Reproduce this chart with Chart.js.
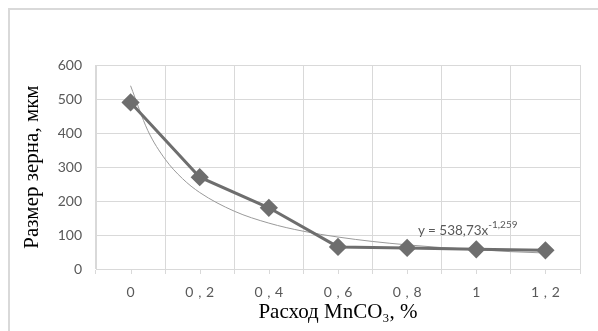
<!DOCTYPE html>
<html>
<head>
<meta charset="utf-8">
<script src="https://cdn.jsdelivr.net/npm/chart.js@4"></script>
<style>
  body { margin: 0; background: #fff; }
  #wrap { position: relative; width: 598px; height: 331px; overflow: hidden; }
  #frame { position: absolute; left: 8px; top: 8px; width: 700px; height: 400px;
           border-left: 2px solid #d9d9d9; border-top: 2px solid #d9d9d9; }
  #eq { position: absolute; left: 418px; top: 219px; font-family: Lato, "Open Sans", sans-serif;
        font-size: 13.5px; color: #595959; white-space: nowrap; }
  #eq sup { font-size: 10px; position: relative; top: -1px; }
  canvas { position: absolute; left: 0; top: 0; }
</style>
</head>
<body>
<div id="wrap">
  <div id="frame"></div>
  <canvas id="chart" width="598" height="331"></canvas>
  <div id="eq">y = 538,73x<sup>-1,259</sup></div>
</div>
<script>
// расход MnCO3, % и размер зерна, мкм
var labels = ['0', '0\u2004,\u20042', '0\u2004,\u20044', '0\u2004,\u20046', '0\u2004,\u20048', '1', '1\u2004,\u20042'];
var rashod = [0, 0.2, 0.4, 0.6, 0.8, 1.0, 1.2];
var razmer = [490, 270, 180, 65, 62, 58, 55];

// степенная линия тренда
var trendX = [0, 0.05, 0.1, 0.15, 0.2, 0.3, 0.4, 0.5, 0.6, 0.7, 0.8, 0.9, 1.0, 1.1, 1.2];
var trendY = [539, 407, 323, 266, 225, 170, 135, 111, 94, 81, 71, 63, 57, 51, 47];

var yTicks = [0, 100, 200, 300, 400, 500, 600];

var points = [];
for (var i in rashod) points.push({x: rashod[i], y: razmer[i]});
var trend = [];
for (var j in trendX) trend.push({x: trendX[j], y: trendY[j]});

var gridColor = '#d9d9d9';

// маленькие засечки под осью по центру категорий
var centerTicks = {
  id: 'centerTicks',
  afterDraw: function(chart) {
    var sx = chart.scales.x, ctx = chart.ctx;
    ctx.save();
    ctx.strokeStyle = gridColor;
    ctx.lineWidth = 1;
    for (var k = 0; k < labels.length; k++) {
      var px = Math.round(sx.getPixelForValue(k)) + 0.5;
      ctx.beginPath();
      ctx.moveTo(px, sx.top);
      ctx.lineTo(px, sx.top + 5);
      ctx.stroke();
    }
    ctx.restore();
  }
};

var ctx = document.getElementById('chart');
new Chart(ctx, {
  type: 'line',
  data: {
    labels: labels,
    datasets: [
      {
        label: 'Размер зерна',
        data: points,
        xAxisID: 'x2',
        borderColor: '#6e6e6e',
        backgroundColor: '#6e6e6e',
        borderWidth: 3,
        pointStyle: 'rectRot',
        pointRadius: 7,
        pointHoverRadius: 7,
        tension: 0
      },
      {
        label: 'Степенная',
        data: trend,
        xAxisID: 'x2',
        borderColor: '#9a9a9a',
        borderWidth: 1,
        pointRadius: 0,
        cubicInterpolationMode: 'monotone'
      }
    ]
  },
  options: {
    responsive: false,
    animation: false,
    layout: { padding: { left: 20, right: 18, top: 65, bottom: 6 } },
    plugins: { legend: { display: false }, tooltip: { enabled: false } },
    scales: {
      x: {
        type: 'category',
        offset: true,
        grid: { offset: true, color: gridColor, tickLength: 5, tickColor: gridColor },
        border: { color: gridColor },
        ticks: { color: '#595959', font: { family: 'Lato', size: 14 }, padding: 10, maxRotation: 0 },
        title: { display: true, text: 'Расход MnCO₃, %', color: '#000',
                 font: { family: 'Liberation Serif', size: 21 }, padding: { top: 0, bottom: 0 } },
        afterFit: function(s) { s.height = 56; }
      },
      x2: {
        type: 'linear',
        display: false,
        min: -0.1,
        max: 1.3
      },
      y: {
        min: 0,
        max: 600,
        afterBuildTicks: function(s) { s.ticks = yTicks.map(function(v) { return {value: v}; }); },
        grid: { color: gridColor, drawTicks: false },
        border: { display: true, color: gridColor },
        ticks: { color: '#595959', font: { family: 'Lato', size: 14 }, padding: 14 },
        title: { display: true, text: 'Размер зерна, мкм', color: '#000',
                 font: { family: 'Liberation Serif', size: 21 }, padding: { top: 0, bottom: 0 } },
        afterFit: function(s) { s.width = 76; }
      }
    }
  },
  plugins: [centerTicks]
});
</script>
</body>
</html>
